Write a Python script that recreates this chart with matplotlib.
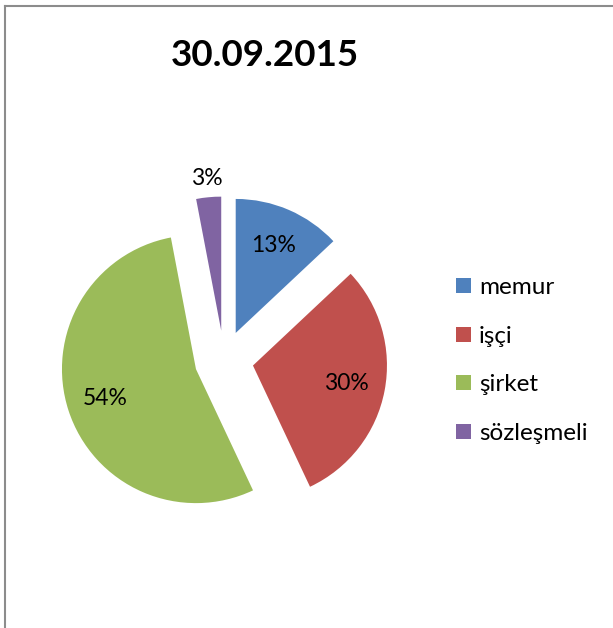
import matplotlib
matplotlib.use("Agg")
import matplotlib.pyplot as plt
from matplotlib.lines import Line2D
import numpy as np

title = "30.09.2015"
categories = ["memur", "işçi", "şirket", "sözleşmeli"]
values = [13, 30, 54, 3]
colors = ["#4F81BD", "#C0504D", "#9BBB59", "#8064A2"]

W, H = 613, 628
fig = plt.figure(figsize=(W / 100, H / 100), dpi=100)
ax = fig.add_axes([0, 0, 1, 1])

cx, cy, r = 224, H - 360, 134
explode = [0.22 * r] * len(values)
wedges, texts, autotexts = ax.pie(
    values, colors=colors, startangle=90, counterclock=False,
    explode=explode, center=(cx, cy), radius=r, frame=False,
    autopct=lambda p: f"{p:.0f}%", pctdistance=0.71,
    textprops=dict(fontsize=16.5, family=["Lato", "DejaVu Sans"], color="black"),
    wedgeprops=dict(linewidth=0),
)
# small slice label placed outside
w = wedges[3]
ang = np.deg2rad((w.theta1 + w.theta2) / 2)
ex = explode[3]
autotexts[3].set_position((cx + (ex + 1.14 * r) * np.cos(ang),
                           cy + (ex + 1.14 * r) * np.sin(ang)))

ax.set_xlim(0, W)
ax.set_ylim(0, H)
ax.set_aspect("auto")
ax.set_axis_off()

fig.text(265 / W, 1 - 55 / H, title, ha="center", va="center",
         fontsize=26.5, fontweight="bold", family=["Lato", "DejaVu Sans"])

leg = ax.legend(wedges, categories, loc="upper left",
                bbox_to_anchor=(437 / W, 1 - 258 / H), frameon=False,
                handlelength=0.58, handleheight=0.58, handletextpad=0.35,
                labelspacing=1.13, borderpad=0.3,
                prop=dict(family=["Lato", "DejaVu Sans"], size=17.5))

fig.add_artist(Line2D([5 / W, 5 / W], [0, 1 - 6 / H], color="#8c8c8c", lw=1.5))
fig.add_artist(Line2D([5 / W, 1], [1 - 6 / H, 1 - 6 / H], color="#8c8c8c", lw=1.5))

fig.savefig("out.png", dpi=100, facecolor="white")
